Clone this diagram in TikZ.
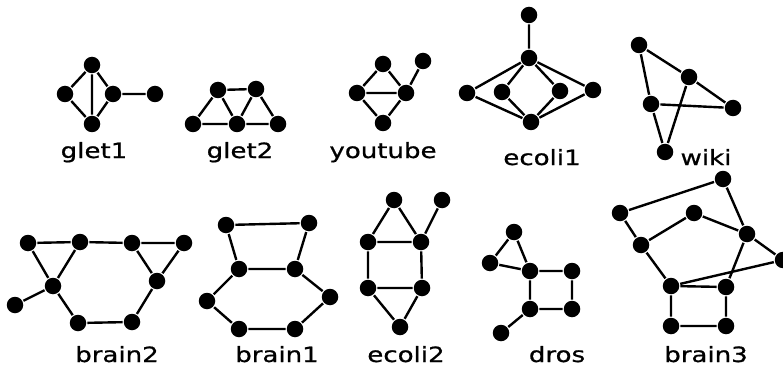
\documentclass[tikz,border=0pt]{standalone}
\usepackage{fontspec}
\setmainfont[FakeStretch=1.24,FakeBold=0.8]{DejaVu Sans}
\begin{document}
\begin{tikzpicture}[x=1pt,y=-1pt,
  vtx/.style={circle,fill=black,inner sep=0pt,minimum size=16.5pt},
  lbl/.style={anchor=base,inner sep=0pt,font=\fontsize{21}{24}\selectfont},
  every path/.style={line width=2.4pt}]
\useasboundingbox (0,0) rectangle (783,366);
% glet1
\node[vtx] (g1t) at (92,65) {};
\node[vtx] (g1l) at (65,94) {};
\node[vtx] (g1r) at (113,94) {};
\node[vtx] (g1b) at (92,124) {};
\node[vtx] (g1f) at (155,94) {};
\draw (g1t)--(g1l) (g1t)--(g1r) (g1t)--(g1b) (g1l)--(g1b) (g1r)--(g1b) (g1r)--(g1f);
\node[lbl] (L1) at (94,158) {glet1};
% glet2
\node[vtx] (g2a) at (218,90) {};
\node[vtx] (g2b) at (256,89) {};
\node[vtx] (g2c) at (193,124) {};
\node[vtx] (g2d) at (237,124) {};
\node[vtx] (g2e) at (278,124) {};
\draw (g2c)--(g2a) (g2a)--(g2b) (g2a)--(g2d) (g2b)--(g2d) (g2b)--(g2e) (g2c)--(g2d) (g2d)--(g2e);
\node[lbl] (L2) at (240,158) {glet2};
% youtube
\node[vtx] (yt) at (383,64) {};
\node[vtx] (yl) at (357,93) {};
\node[vtx] (yr) at (406,93) {};
\node[vtx] (yb) at (383,123) {};
\node[vtx] (yf) at (423,61) {};
\draw (yt)--(yl) (yt)--(yr) (yl)--(yr) (yl)--(yb) (yr)--(yb) (yr)--(yf);
\node[lbl] (L3) at (383,158) {youtube};
% ecoli1
\node[vtx] (e1t) at (529,15) {};
\node[vtx] (e1h) at (529,58) {};
\node[vtx] (e1a) at (467,93) {};
\node[vtx] (e1b) at (502,92) {};
\node[vtx] (e1c) at (560,91) {};
\node[vtx] (e1d) at (593,90) {};
\node[vtx] (e1o) at (531,122) {};
\draw (e1t)--(e1h) (e1h)--(e1a) (e1h)--(e1b) (e1h)--(e1c) (e1h)--(e1d)
      (e1a)--(e1o) (e1b)--(e1o) (e1c)--(e1o) (e1d)--(e1o);
\node[lbl] (L4) at (542,165) {ecoli1};
% wiki
\node[vtx] (w1) at (639,45) {};
\node[vtx] (w2) at (689,77) {};
\node[vtx] (w3) at (651,104) {};
\node[vtx] (w4) at (733,108) {};
\node[vtx] (w5) at (665,152) {};
\draw (w1)--(w2) (w1)--(w3) (w2)--(w4) (w3)--(w4) (w3)--(w5) (w2)--(w5);
\node[lbl] (L5) at (706,165) {wiki};
% brain2
\node[vtx] (b2a) at (28,243) {};
\node[vtx] (b2b) at (80,242) {};
\node[vtx] (b2c) at (132,243) {};
\node[vtx] (b2d) at (184,243) {};
\node[vtx] (b2e) at (53,286) {};
\node[vtx] (b2f) at (157,281) {};
\node[vtx] (b2g) at (15,305) {};
\node[vtx] (b2h) at (78,323) {};
\node[vtx] (b2i) at (132,322) {};
\draw (b2a)--(b2b) (b2a)--(b2e) (b2b)--(b2e) (b2b)--(b2c) (b2c)--(b2d) (b2c)--(b2f)
      (b2d)--(b2f) (b2e)--(b2g) (b2e)--(b2h) (b2h)--(b2i) (b2i)--(b2f);
\node[lbl] (L6) at (117,362) {brain2};
% brain1
\node[vtx] (b1a) at (226,225) {};
\node[vtx] (b1b) at (309,223) {};
\node[vtx] (b1c) at (239,269) {};
\node[vtx] (b1d) at (295,269) {};
\node[vtx] (b1e) at (207,301) {};
\node[vtx] (b1f) at (330,297) {};
\node[vtx] (b1g) at (239,329) {};
\node[vtx] (b1h) at (295,329) {};
\draw (b1a)--(b1b) (b1a)--(b1c) (b1b)--(b1d) (b1c)--(b1d) (b1c)--(b1e) (b1d)--(b1f)
      (b1e)--(b1g) (b1g)--(b1h) (b1h)--(b1f);
\node[lbl] (L7) at (277,362) {brain1};
% ecoli2
\node[vtx] (e2a) at (394,200) {};
\node[vtx] (e2b) at (442,200) {};
\node[vtx] (e2c) at (368,242) {};
\node[vtx] (e2d) at (421,242) {};
\node[vtx] (e2e) at (368,288) {};
\node[vtx] (e2f) at (422,288) {};
\node[vtx] (e2g) at (400,327) {};
\draw (e2a)--(e2c) (e2a)--(e2d) (e2b)--(e2d) (e2c)--(e2d) (e2c)--(e2e) (e2d)--(e2f)
      (e2e)--(e2f) (e2e)--(e2g) (e2f)--(e2g);
\node[lbl] (L8) at (406,362) {ecoli2};
% dros
\node[vtx] (da) at (514,232) {};
\node[vtx] (db) at (490,263) {};
\node[vtx] (dc) at (530,271) {};
\node[vtx] (dd) at (572,271) {};
\node[vtx] (de) at (530,309) {};
\node[vtx] (df) at (572,309) {};
\node[vtx] (dg) at (501,333) {};
\draw (da)--(db) (da)--(dc) (db)--(dc) (dc)--(dd) (dc)--(de) (dd)--(df) (de)--(df) (de)--(dg);
\node[lbl] (L9) at (557,362) {dros};
% brain3
\node[vtx] (b3a) at (723,179) {};
\node[vtx] (b3b) at (620,213) {};
\node[vtx] (b3c) at (694,213) {};
\node[vtx] (b3d) at (747,234) {};
\node[vtx] (b3e) at (783,260) {};
\node[vtx] (b3f) at (641,245) {};
\node[vtx] (b3g) at (671,286) {};
\node[vtx] (b3h) at (726,287) {};
\node[vtx] (b3i) at (671,326) {};
\node[vtx] (b3j) at (726,326) {};
\draw (b3b)--(b3a) (b3a)--(b3d) (b3b)--(b3f) (b3f)--(b3c) (b3c)--(b3d) (b3d)--(b3e)
      (b3f)--(b3g) (b3g)--(b3e) (b3d)--(b3h) (b3g)--(b3h) (b3g)--(b3i) (b3h)--(b3j) (b3i)--(b3j);
\node[lbl] (L10) at (706,362) {brain3};
\end{tikzpicture}
\end{document}
